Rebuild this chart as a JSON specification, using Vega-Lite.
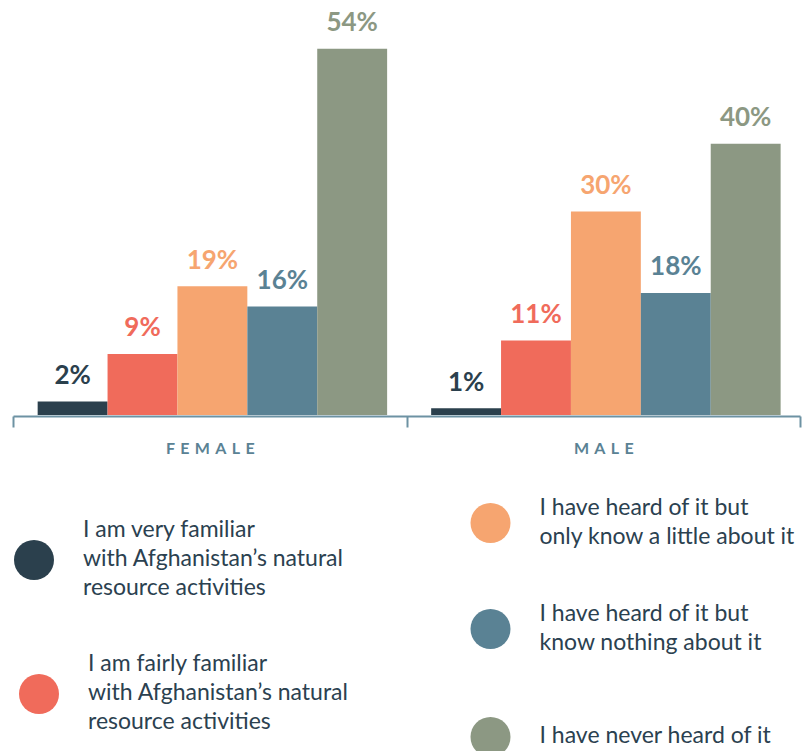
{
  "$schema": "https://vega.github.io/schema/vega-lite/v6.json",
  "width": 787,
  "height": 415,
  "autosize": {"type": "none"},
  "padding": {"left": 13, "top": 0, "right": 7, "bottom": 336},
  "background": "white",
  "config": {
    "view": {"stroke": null},
    "font": "Lato",
    "style": {"guide-label": {"lineHeight": 29, "dy": -15}},
    "legend": {
      "orient": "none",
      "direction": "vertical",
      "title": null,
      "symbolType": "circle",
      "symbolSize": 1600,
      "symbolStrokeWidth": 0,
      "symbolOpacity": 1,
      "labelFont": "Lato",
      "labelFontSize": 23,
      "labelColor": "#2b4150",
      "labelLimit": 400,
      "labelOffset": 29,
      "padding": 0
    }
  },
  "data": {
    "values": [
      {"gender": "FEMALE", "response": "I am very familiar with Afghanistan’s natural resource activities", "share": 0.02},
      {"gender": "FEMALE", "response": "I am fairly familiar with Afghanistan’s natural resource activities", "share": 0.09},
      {"gender": "FEMALE", "response": "I have heard of it but only know a little about it", "share": 0.19},
      {"gender": "FEMALE", "response": "I have heard of it but know nothing about it", "share": 0.16},
      {"gender": "FEMALE", "response": "I have never heard of it", "share": 0.54},
      {"gender": "MALE", "response": "I am very familiar with Afghanistan’s natural resource activities", "share": 0.01},
      {"gender": "MALE", "response": "I am fairly familiar with Afghanistan’s natural resource activities", "share": 0.11},
      {"gender": "MALE", "response": "I have heard of it but only know a little about it", "share": 0.30},
      {"gender": "MALE", "response": "I have heard of it but know nothing about it", "share": 0.18},
      {"gender": "MALE", "response": "I have never heard of it", "share": 0.40}
    ]
  },
  "encoding": {
    "x": {
      "field": "gender",
      "type": "nominal",
      "sort": ["FEMALE", "MALE"],
      "scale": {"paddingInner": 0, "paddingOuter": 0},
      "axis": {
        "title": null,
        "orient": "bottom",
        "offset": 1,
        "domainColor": "#6d92a3",
        "domainWidth": 2,
        "tickColor": "#6d92a3",
        "tickWidth": 2,
        "tickSize": 11,
        "tickBand": "extent",
        "labelColor": "#5a8294",
        "labelFont": "Lato",
        "labelFontSize": 16,
        "labelFontWeight": "bold",
        "labelPadding": 28,
        "labelAngle": 0,
        "labelExpr": "join(split(datum.label, ''), '\u2004') + '\u2004'"
      }
    },
    "xOffset": {
      "field": "response",
      "type": "nominal",
      "scale": {
        "domain": [
          "I am very familiar with Afghanistan’s natural resource activities",
          "I am fairly familiar with Afghanistan’s natural resource activities",
          "I have heard of it but only know a little about it",
          "I have heard of it but know nothing about it",
          "I have never heard of it"
        ],
        "paddingInner": 0,
        "paddingOuter": 0.315,
        "align": 0.56
      }
    },
    "y": {
      "field": "share",
      "type": "quantitative",
      "scale": {"domain": [0, 0.612], "nice": false},
      "axis": null
    }
  },
  "layer": [
    {
      "mark": {"type": "bar", "strokeWidth": 0},
      "encoding": {
        "color": {
          "field": "response",
          "type": "nominal",
          "scale": {
            "domain": [
              "I am very familiar with Afghanistan’s natural resource activities",
              "I am fairly familiar with Afghanistan’s natural resource activities",
              "I have heard of it but only know a little about it",
              "I have heard of it but know nothing about it",
              "I have never heard of it"
            ],
            "range": ["#2b404d", "#f06b5b", "#f6a570", "#5a8294", "#8c9883"]
          },
          "legend": {
            "legendX": 1,
            "legendY": 540,
            "labelBaseline": "line-bottom",
            "values": ["I am very familiar with Afghanistan’s natural resource activities"],
            "labelExpr": "['I am very familiar', 'with Afghanistan’s natural', 'resource activities']"
          }
        },
        "stroke": {
          "field": "response",
          "type": "nominal",
          "scale": {
            "domain": [
              "I have never heard of it",
              "I am very familiar with Afghanistan’s natural resource activities",
              "I am fairly familiar with Afghanistan’s natural resource activities",
              "I have heard of it but only know a little about it",
              "I have heard of it but know nothing about it"
            ],
            "range": ["#8c9883", "#2b404d", "#f06b5b", "#f6a570", "#5a8294"]
          },
          "legend": {
            "legendX": 457.5,
            "legendY": 717,
            "labelBaseline": "line-top",
            "symbolFillColor": "#8c9883",
            "values": ["I have never heard of it"]
          }
        }
      }
    },
    {
      "mark": {"type": "text", "dy": -17.5, "baseline": "alphabetic", "fontSize": 26, "fontWeight": "bold", "font": "Lato", "strokeWidth": 0},
      "encoding": {
        "text": {"field": "share", "type": "quantitative", "format": ".0%"},
        "fill": {
          "field": "response",
          "type": "nominal",
          "scale": {
            "domain": [
              "I have heard of it but only know a little about it",
              "I have heard of it but know nothing about it",
              "I have never heard of it",
              "I am very familiar with Afghanistan’s natural resource activities",
              "I am fairly familiar with Afghanistan’s natural resource activities"
            ],
            "range": ["#f6a570", "#5a8294", "#8c9883", "#2b404d", "#f06b5b"]
          },
          "legend": {
            "legendX": 457.5,
            "legendY": 503,
            "labelBaseline": "middle",
            "rowPadding": 54,
            "values": [
              "I have heard of it but only know a little about it",
              "I have heard of it but know nothing about it"
            ],
            "labelExpr": "datum.label == 'I have heard of it but only know a little about it' ? ['I have heard of it but', 'only know a little about it'] : ['I have heard of it but', 'know nothing about it']"
          }
        },
        "stroke": {
          "field": "response",
          "type": "nominal",
          "scale": {
            "domain": [
              "I am fairly familiar with Afghanistan’s natural resource activities",
              "I have heard of it but only know a little about it",
              "I have heard of it but know nothing about it",
              "I have never heard of it",
              "I am very familiar with Afghanistan’s natural resource activities"
            ],
            "range": ["#f06b5b", "#f6a570", "#5a8294", "#8c9883", "#2b404d"]
          },
          "legend": {
            "legendX": 6,
            "legendY": 674,
            "labelBaseline": "line-bottom",
            "symbolFillColor": "#f06b5b",
            "values": ["I am fairly familiar with Afghanistan’s natural resource activities"],
            "labelExpr": "['I am fairly familiar', 'with Afghanistan’s natural', 'resource activities']"
          }
        }
      }
    }
  ],
  "resolve": {"scale": {"stroke": "independent"}, "legend": {"stroke": "independent"}}
}
